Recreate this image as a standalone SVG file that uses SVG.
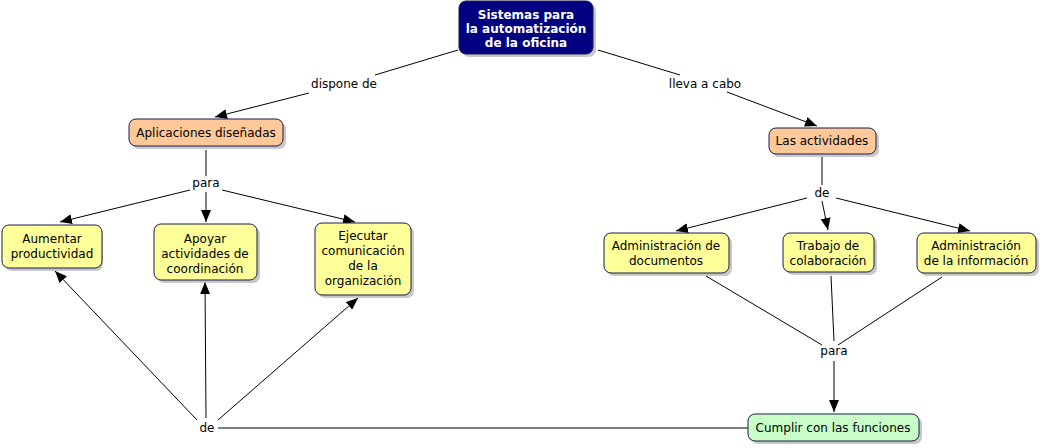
<svg xmlns="http://www.w3.org/2000/svg" width="1044" height="448" viewBox="0 0 1044 448">
<defs>
<marker id="arr" viewBox="0 0 12 10" refX="12" refY="5" markerWidth="12" markerHeight="10" markerUnits="userSpaceOnUse" orient="auto">
<path d="M0,0 L12,5 L0,10 Z" fill="#000"/>
</marker>
</defs>
<style>
text{font-family:"DejaVu Sans",Verdana,sans-serif;font-size:12px;text-anchor:middle;fill:#000}
.sh{fill:#b0b0b0;opacity:0.7}
.box{stroke:#1a1a4a;stroke-width:1}
.top{fill:#000080}
.orange{fill:#ffc898}
.yellow{fill:#ffff99}
.green{fill:#c8ffc8}
.wt{fill:#fff;font-weight:bold}
.conn line{stroke:#000;stroke-width:1}
.lbl{fill:#000}
</style>
<rect width="1044" height="448" fill="#fff"/>
<g class="conn">
<line x1="458" y1="50" x2="375" y2="75"/>
<line x1="309" y1="93" x2="215" y2="117" marker-end="url(#arr)"/>
<line x1="598" y1="50" x2="680" y2="75"/>
<line x1="727" y1="92" x2="817" y2="126" marker-end="url(#arr)"/>
<line x1="206" y1="150" x2="206" y2="176"/>
<line x1="190" y1="190" x2="60" y2="222" marker-end="url(#arr)"/>
<line x1="206" y1="192" x2="206" y2="222" marker-end="url(#arr)"/>
<line x1="222" y1="190" x2="355" y2="222" marker-end="url(#arr)"/>
<line x1="822" y1="157" x2="822" y2="185"/>
<line x1="807" y1="198" x2="676" y2="231" marker-end="url(#arr)"/>
<line x1="822" y1="201" x2="828" y2="230" marker-end="url(#arr)"/>
<line x1="836" y1="198" x2="970" y2="231" marker-end="url(#arr)"/>
<line x1="706" y1="276" x2="822" y2="345"/>
<line x1="831" y1="276" x2="834" y2="341"/>
<line x1="942" y1="277" x2="838" y2="345"/>
<line x1="834" y1="361" x2="834" y2="412" marker-end="url(#arr)"/>
<line x1="748" y1="428" x2="218" y2="428"/>
<line x1="197" y1="420" x2="55" y2="271" marker-end="url(#arr)"/>
<line x1="206" y1="418" x2="205" y2="282" marker-end="url(#arr)"/>
<line x1="218" y1="420" x2="358" y2="298" marker-end="url(#arr)"/>
</g>
<g id="lbl-dispone">
<text x="344" y="88">dispone de</text>
</g>
<g id="lbl-lleva">
<text x="705" y="88">lleva a cabo</text>
</g>
<g id="lbl-para1">
<text x="206" y="187">para</text>
</g>
<g id="lbl-de1">
<text x="822" y="197">de</text>
</g>
<g id="lbl-para2">
<text x="834" y="355">para</text>
</g>
<g id="lbl-de2">
<text x="207" y="432">de</text>
</g>
<g id="n-sistemas">
<rect class="sh" x="462" y="4" width="134" height="53" rx="7"/>
<rect class="box top" x="459" y="1" width="134" height="53" rx="7"/>
<text class="wt" x="526" y="19">Sistemas para</text>
<text class="wt" x="526" y="33">la automatización</text>
<text class="wt" x="526" y="47">de la oficina</text>
</g>
<g id="n-aplicaciones">
<rect class="sh" x="132" y="122" width="154" height="27" rx="7"/>
<rect class="box orange" x="129" y="119" width="154" height="27" rx="7"/>
<text x="206" y="137">Aplicaciones diseñadas</text>
</g>
<g id="n-actividades">
<rect class="sh" x="772" y="131" width="107" height="26" rx="7"/>
<rect class="box orange" x="769" y="128" width="107" height="26" rx="7"/>
<text x="822" y="145">Las actividades</text>
</g>
<g id="n-aumentar">
<rect class="sh" x="5" y="228" width="98" height="43" rx="7"/>
<rect class="box yellow" x="2" y="225" width="100" height="43" rx="7"/>
<text x="52" y="243">Aumentar</text>
<text x="52" y="258">productividad</text>
</g>
<g id="n-apoyar">
<rect class="sh" x="157" y="227" width="103" height="56" rx="7"/>
<rect class="box yellow" x="154" y="224" width="103" height="56" rx="7"/>
<text x="205" y="243">Apoyar</text>
<text x="205" y="258">actividades de</text>
<text x="205" y="273">coordinación</text>
</g>
<g id="n-ejecutar">
<rect class="sh" x="318" y="226" width="96" height="72" rx="7"/>
<rect class="box yellow" x="315" y="223" width="96" height="72" rx="7"/>
<text x="363" y="240">Ejecutar</text>
<text x="363" y="255">comunicación</text>
<text x="363" y="270">de la</text>
<text x="363" y="285">organización</text>
</g>
<g id="n-admdoc">
<rect class="sh" x="607" y="236" width="125" height="40" rx="7"/>
<rect class="box yellow" x="604" y="233" width="125" height="40" rx="7"/>
<text x="666" y="250">Administración de</text>
<text x="666" y="265">documentos</text>
</g>
<g id="n-trabajo">
<rect class="sh" x="786" y="236" width="91" height="39" rx="7"/>
<rect class="box yellow" x="783" y="233" width="91" height="39" rx="7"/>
<text x="828" y="250">Trabajo de</text>
<text x="828" y="265">colaboración</text>
</g>
<g id="n-adminfo">
<rect class="sh" x="920" y="236" width="119" height="40" rx="7"/>
<rect class="box yellow" x="917" y="233" width="119" height="40" rx="7"/>
<text x="976" y="250">Administración</text>
<text x="976" y="265">de la información</text>
</g>
<g id="n-cumplir">
<rect class="sh" x="751" y="417" width="171" height="27" rx="7"/>
<rect class="box green" x="748" y="414" width="171" height="27" rx="7"/>
<text x="833" y="432">Cumplir con las funciones</text>
</g>
</svg>
